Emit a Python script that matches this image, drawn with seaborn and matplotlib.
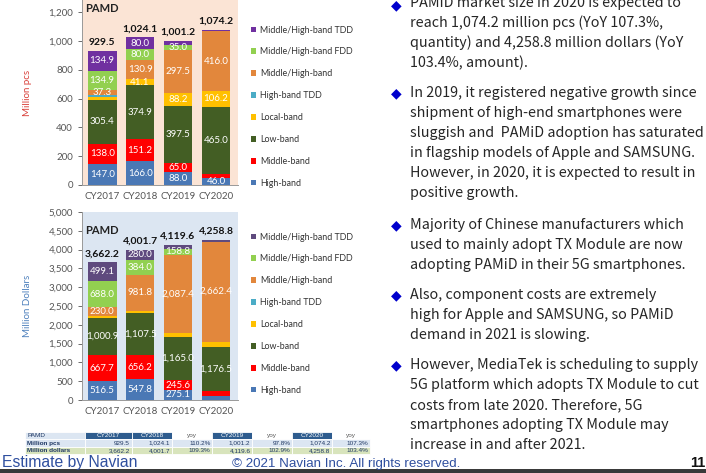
import pandas as pd
import numpy as np
import matplotlib
matplotlib.use("Agg")
import matplotlib.pyplot as plt
import seaborn as sns

# ---------------- data ----------------
years = ["CY2017", "CY2018", "CY2019", "CY2020"]
segments = ["Middle/High-band TDD", "Middle/High-band FDD", "Middle/High-band",
            "High-band TDD", "Local-band", "Low-band", "Middle-band", "High-band"]

# million pcs (CY2017..CY2020)
pcs_mh_tdd = [134.9, 80.0, 30.0, 8.0]
pcs_mh_fdd = [134.9, 80.0, 35.0, 0.0]
pcs_mh = [37.3, 130.9, 297.5, 416.0]
pcs_h_tdd = [10.0, 0.0, 0.0, 0.0]
pcs_local = [22.0, 41.1, 88.2, 106.2]
pcs_low = [305.4, 374.9, 397.5, 465.0]
pcs_mid = [138.0, 151.2, 65.0, 33.0]
pcs_high = [147.0, 166.0, 88.0, 46.0]
pcs_total = [929.5, 1024.1, 1001.2, 1074.2]
pcs_yoy = ["110.2%", "97.8%", "107.3%"]

# million dollars (CY2017..CY2020)
usd_mh_tdd = [499.1, 280.0, 99.7, 44.0]
usd_mh_fdd = [688.0, 384.0, 158.8, 0.0]
usd_mh = [230.0, 981.8, 2087.4, 2662.4]
usd_h_tdd = [20.0, 0.0, 0.0, 0.0]
usd_local = [40.0, 44.4, 88.0, 133.4]
usd_low = [1000.9, 1107.5, 1165.0, 1176.5]
usd_mid = [667.7, 656.2, 245.6, 140.0]
usd_high = [516.5, 547.8, 275.1, 102.5]
usd_total = [3662.2, 4001.7, 4119.6, 4258.8]
usd_yoy = ["109.3%", "102.9%", "103.4%"]

pcs_series = [pcs_mh_tdd, pcs_mh_fdd, pcs_mh, pcs_h_tdd, pcs_local, pcs_low, pcs_mid, pcs_high]
usd_series = [usd_mh_tdd, usd_mh_fdd, usd_mh, usd_h_tdd, usd_local, usd_low, usd_mid, usd_high]

bullets = [
    ["PAMiD market size in 2020 is expected to",
     "reach 1,074.2 million pcs (YoY 107.3%,",
     "quantity) and 4,258.8 million dollars (YoY",
     "103.4%, amount)."],
    ["In 2019, it registered negative growth since",
     "shipment of high-end smartphones were",
     "sluggish and  PAMiD adoption has saturated",
     "in flagship models of Apple and SAMSUNG.",
     "However, in 2020, it is expected to result in",
     "positive growth."],
    ["Majority of Chinese manufacturers which",
     "used to mainly adopt TX Module are now",
     "adopting PAMiD in their 5G smartphones."],
    ["Also, component costs are extremely",
     "high for Apple and SAMSUNG, so PAMiD",
     "demand in 2021 is slowing."],
    ["However, MediaTek is scheduling to supply",
     "5G platform which adopts TX Module to cut",
     "costs from late 2020. Therefore, 5G",
     "smartphones adopting TX Module may",
     "increase in and after 2021."],
]

colors_top = ["#7030A0", "#92D050", "#E2873C", "#4BACC6", "#FFC000", "#435E24", "#FF0000", "#4A78B5"]
colors_bot = ["#5F4A7E", "#92D050", "#E2873C", "#4BACC6", "#FFC000", "#435E24", "#FF0000", "#4A78B5"]

W, H = 706, 473
fig = plt.figure(figsize=(W / 100, H / 100), dpi=100)
chart_font = "Lato"


def fx(px):
    return px / W


def fy(py):
    return 1 - py / H


def long_df(series):
    rows = []
    for seg, vals in zip(segments, series):
        for yr, v in zip(years, vals):
            rows.append({"year": yr, "segment": seg, "value": v})
    return pd.DataFrame(rows)


def stacked(ax, series, totals, colors, ymax, yticks, thresh, ylabel, ylab_color,
            bg, legend_anchor, pamd_y):
    df = long_df(series)
    sns.histplot(data=df, x="year", hue="segment", weights="value", multiple="stack",
                 hue_order=segments, palette=dict(zip(segments, colors)), shrink=0.76,
                 alpha=1, linewidth=0, ax=ax)
    ax.set_facecolor(bg)
    ax.set_xlim(-0.53, 3.58)
    ax.set_ylim(0, ymax)
    ax.set_yticks(yticks)
    ax.set_yticklabels([f"{t:,}" for t in yticks])
    ax.tick_params(axis="y", labelsize=7, colors="#555555", length=3, width=0.6)
    ax.tick_params(axis="x", labelsize=7, colors="#555555", length=0, pad=5)
    for lab in ax.get_xticklabels() + ax.get_yticklabels():
        lab.set_fontfamily(chart_font)
    for s in ["top", "right"]:
        ax.spines[s].set_visible(False)
    for s in ["left", "bottom"]:
        ax.spines[s].set_color("#999999")
        ax.spines[s].set_linewidth(0.7)
    ax.set_xlabel("")
    ax.set_ylabel(ylabel, color=ylab_color, fontsize=7, fontfamily=chart_font)
    ax.yaxis.set_label_coords(-0.32, 0.5)

    # segment labels
    for p in ax.patches:
        h = p.get_height()
        if h >= thresh:
            ax.text(p.get_x() + p.get_width() / 2, p.get_y() + h / 2, f"{h:,.1f}",
                    ha="center", va="center", color="white", fontsize=7,
                    fontfamily=chart_font)
    # totals
    for i, t in enumerate(totals):
        ax.annotate(f"{t:,.1f}", (i, t), xytext=(0, 3), textcoords="offset points",
                    ha="center", va="bottom", fontsize=7.5, fontweight="bold",
                    color="#111111", fontfamily=chart_font)
    ax.text(0.02, pamd_y, "PAMD", transform=ax.transAxes,
            ha="left", va="top", fontsize=8, fontweight="bold", color="#222222",
            fontfamily=chart_font)

    sns.move_legend(ax, "upper left", bbox_to_anchor=legend_anchor,
                    bbox_transform=fig.transFigure, frameon=False, title=None,
                    fontsize=6.4, labelspacing=1.45, handlelength=0.6, handleheight=0.6,
                    handletextpad=0.45, borderaxespad=0)
    for t in ax.get_legend().get_texts():
        t.set_color("#333333")
        t.set_fontfamily(chart_font)


ax_top = fig.add_axes([fx(82), fy(185), fx(156), 185 / H])
stacked(ax_top, pcs_series, pcs_total, colors_top, 1284, list(range(0, 1201, 200)),
        34, "Million pcs", "#D9403A", "#FBE4D5", (fx(247), fy(22)), 0.985)

ax_bot = fig.add_axes([fx(82), fy(400), fx(156), 188 / H])
stacked(ax_bot, usd_series, usd_total, colors_bot, 5000, list(range(0, 5001, 500)),
        150, "Million Dollars", "#4F81BD", "#DCE6F2", (fx(247), fy(229)), 0.93)

# ---------------- table ----------------
ax_t = fig.add_axes([fx(25), fy(454), fx(345), 22 / H])
ax_t.axis("off")
header = ["PAMD", "CY2017", "CY2018", "yoy", "CY2019", "yoy", "CY2020", "yoy"]
row_pcs = ["Million pcs", f"{pcs_total[0]:,.1f}", f"{pcs_total[1]:,.1f}", pcs_yoy[0],
           f"{pcs_total[2]:,.1f}", pcs_yoy[1], f"{pcs_total[3]:,.1f}", pcs_yoy[2]]
row_usd = ["Million dollars", f"{usd_total[0]:,.1f}", f"{usd_total[1]:,.1f}", usd_yoy[0],
           f"{usd_total[2]:,.1f}", usd_yoy[1], f"{usd_total[3]:,.1f}", usd_yoy[2]]
col_w = [60, 47, 40, 40, 40, 40, 40, 38]
tab = ax_t.table(cellText=[row_pcs, row_usd], colLabels=header, colWidths=col_w,
                 cellLoc="right", bbox=[0, 0, 1, 1])
tab.auto_set_font_size(False)
for (r, c), cell in tab.get_celld().items():
    cell.set_edgecolor("white")
    cell.set_linewidth(0.6)
    cell.PAD = 0.04
    txt = cell.get_text()
    txt.set_fontsize(4.6)
    txt.set_fontfamily("Liberation Sans")
    if r == 0:
        if c == 0:
            cell.set_facecolor("#DCE6F2")
            txt.set_color("#1F3864")
            txt.set_ha("left")
        elif header[c] == "yoy":
            cell.set_facecolor("white")
            txt.set_color("#555555")
            txt.set_ha("center")
        else:
            cell.set_facecolor("#2E5C8E")
            txt.set_color("white")
            txt.set_ha("center")
    else:
        cell.set_facecolor("#DCE6F2" if r == 1 else "#D8E4BC")
        txt.set_color("#1F3864")
        if c == 0:
            txt.set_ha("left")
            txt.set_fontweight("bold")

# ---------------- right text ----------------
starts = [5, 93, 225, 295, 365]
for lines, y0 in zip(bullets, starts):
    fig.text(fx(396), fy(y0), "\u25c6", color="#0000CC", fontsize=10,
             ha="center", va="center", family=["DejaVu Sans"])
    for k, line in enumerate(lines):
        fig.text(fx(410), fy(y0 + 20 * k if y0 > 5 else 3 + 20 * k), line,
                 color="#262626", fontsize=10.3, ha="left", va="center",
                 family=["Noto Sans CJK JP", "DejaVu Sans"])

# ---------------- footer ----------------
fig.text(fx(2), fy(462), "Estimate by Navian", color="#2F4F9F", fontsize=11.3,
         ha="left", va="center", family="Liberation Sans")
fig.text(fx(346), fy(464), "\u00a9 2021 Navian Inc. All rights reserved.", color="#2F4F9F",
         fontsize=9.6, ha="center", va="center", family="Liberation Sans")
fig.text(fx(705), fy(463), "11", color="#111111", fontsize=10.5, fontweight="bold",
         ha="right", va="center", family="Liberation Sans")
fig.patches.append(plt.Rectangle((0, 0), 1, 4 / H, transform=fig.transFigure,
                                 facecolor="#3A3A3A", edgecolor="none"))

fig.savefig("out.png", dpi=100)
